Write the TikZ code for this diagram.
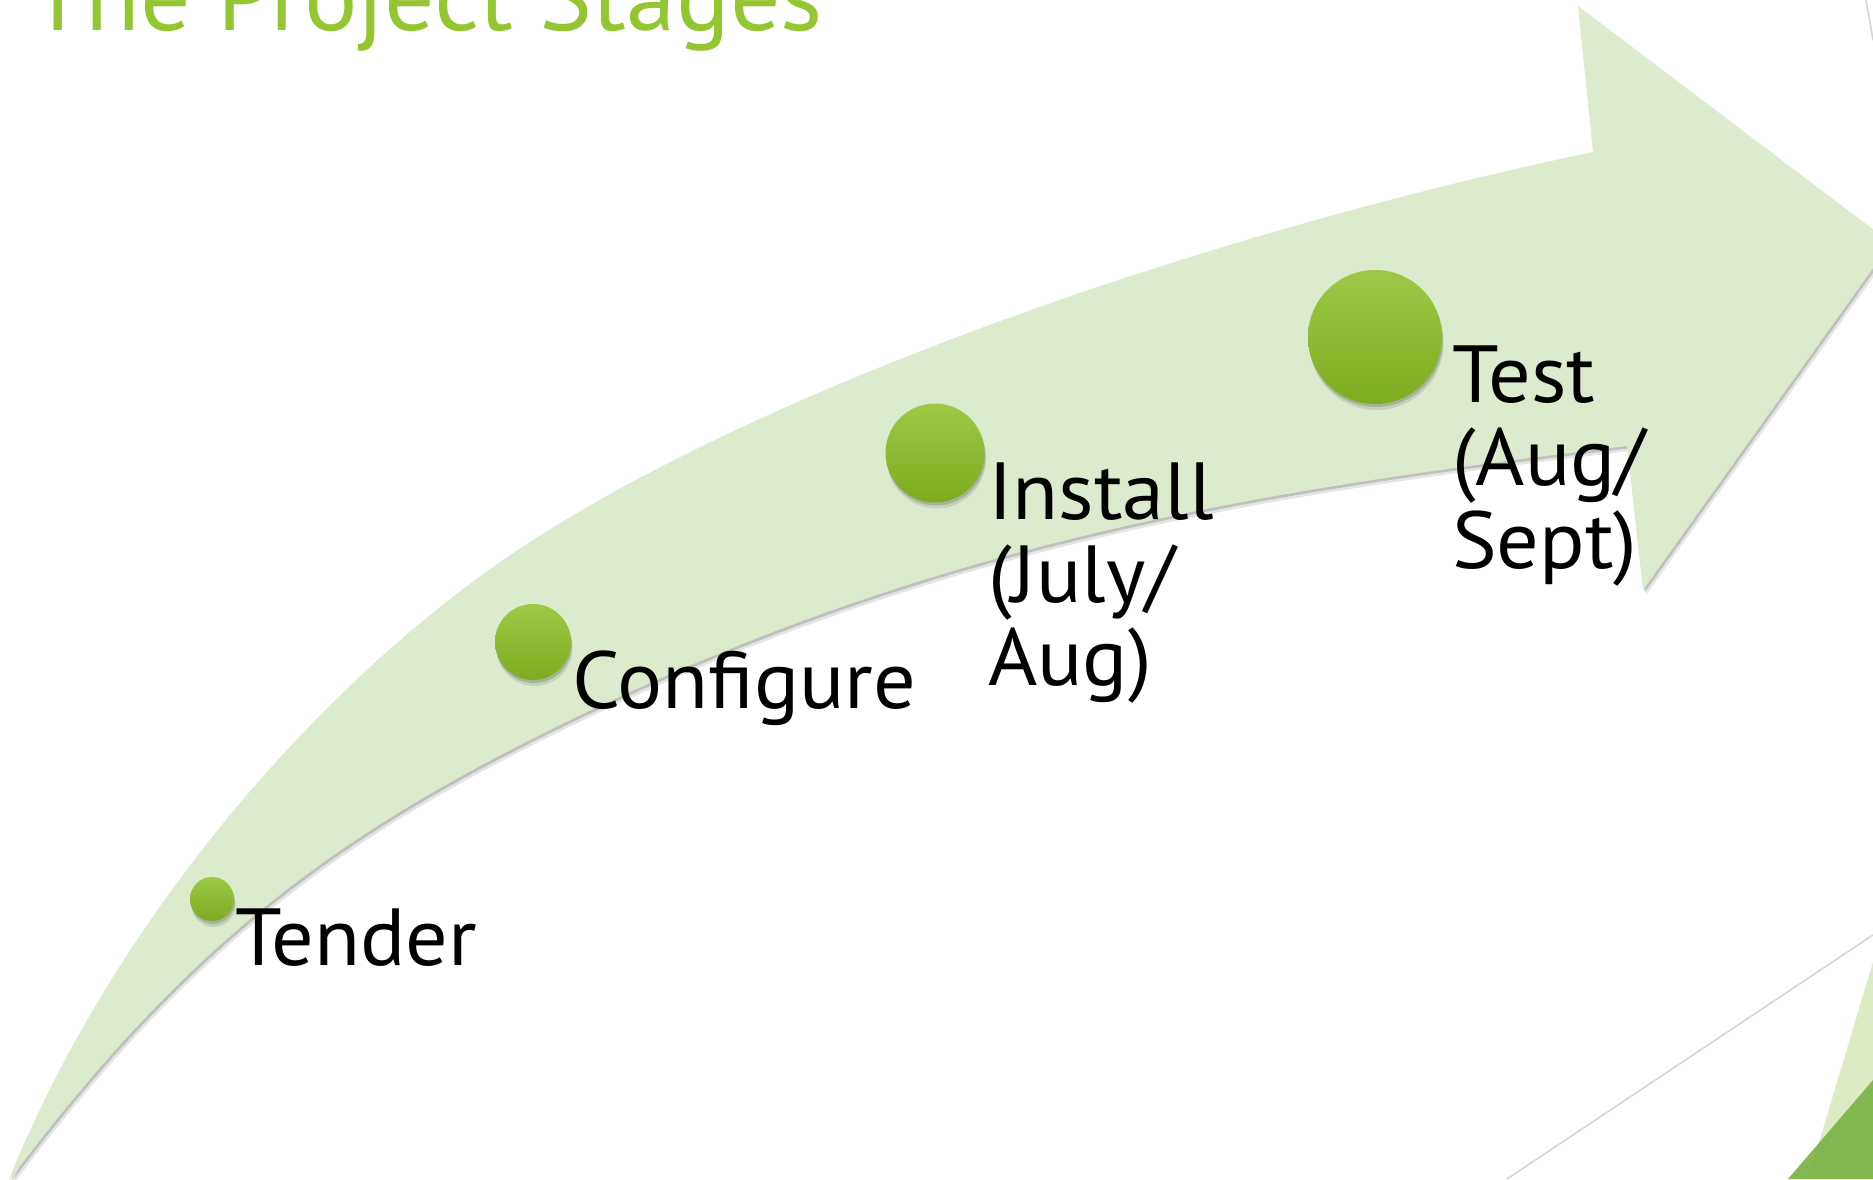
\documentclass[tikz,border=0pt]{standalone}
\usepackage{fontspec}
\setmainfont{PT Sans}
\definecolor{arrowgreen}{RGB}{220,234,206}
\definecolor{titlegreen}{RGB}{148,198,50}
\definecolor{dottop}{RGB}{158,200,70}
\definecolor{dotbot}{RGB}{126,172,32}
\definecolor{trilight}{RGB}{221,235,196}
\definecolor{tridark}{RGB}{122,180,72}
\definecolor{thingray}{RGB}{212,212,212}
\begin{document}
\begin{tikzpicture}[x=1pt,y=-1pt,
  bandfill/.style={fill=arrowgreen,
    preaction={fill=black,opacity=0.10,transform canvas={shift={(3pt,-5pt)}}},
    preaction={fill=black,opacity=0.16,transform canvas={shift={(1.5pt,-2.5pt)}}}},
  stagedot/.style={circle,inner sep=0pt,draw=none,top color=dottop,bottom color=dotbot,
    preaction={fill=black,opacity=0.10,transform canvas={shift={(1.5pt,-6pt)}}},
    preaction={fill=black,opacity=0.15,transform canvas={shift={(1pt,-3pt)}}}},
  stagelabel/.style={anchor=base west,inner sep=0pt,align=left,xscale=1.04,
    font=\fontsize{81}{83}\selectfont,text=black},
  thinline/.style={draw=thingray,line width=1.6pt}]
\useasboundingbox (0,0) rectangle (1873,1179);
\clip (0,0) rectangle (1873,1179);
\fill[white] (0,0) rectangle (1873,1179);

% title (cut by the top edge)
\node[anchor=base west,inner sep=0pt,text=titlegreen,
  font=\fontsize{98}{98}\selectfont,xscale=1.02] (title) at (30,30) {The Project Stages};

% decorative theme shapes
\fill[trilight] (1873,962) -- (1808,1179) -- (1873,1179) -- cycle;
\fill[tridark,opacity=0.93] (1873,1080) -- (1788,1179) -- (1873,1179) -- cycle;
\draw[thinline] (1507,1179) -- (1873,935);
\draw[thinline] (1866,0) -- (1873,40);

% curved arrow
\fill[bandfill]
  (8,1182) .. controls (112,922) and (323,675) .. (533,540)
           .. controls (786,378) and (1221,230) .. (1593,152)
  -- (1578,6) -- (1891,243) -- (1643,590) -- (1627,446)
  .. controls (1260,490) and (937,540) .. (560,725)
  .. controls (336,835) and (188,942) .. (8,1182)
  -- cycle;

% stage dots
\node[stagedot,minimum size=44] (dtender) at (212,899) {};
\node[stagedot,minimum size=76] (dconf) at (533,642) {};
\node[stagedot,minimum size=99] (dinst) at (935,453) {};
\node[stagedot,minimum size=134] (dtest) at (1375,337) {};

% labels (base = baseline of the last line)
\node[stagelabel] (ltender) at (235,965) {Tender};
\node[stagelabel] (lconf) at (572,708) {Configure};
\node[stagelabel] (linst) at (988,685) {Install\\(July/\\Aug)};
\node[stagelabel] (ltest) at (1452,568) {Test\\(Aug/\\Sept)};
\end{tikzpicture}
\end{document}
